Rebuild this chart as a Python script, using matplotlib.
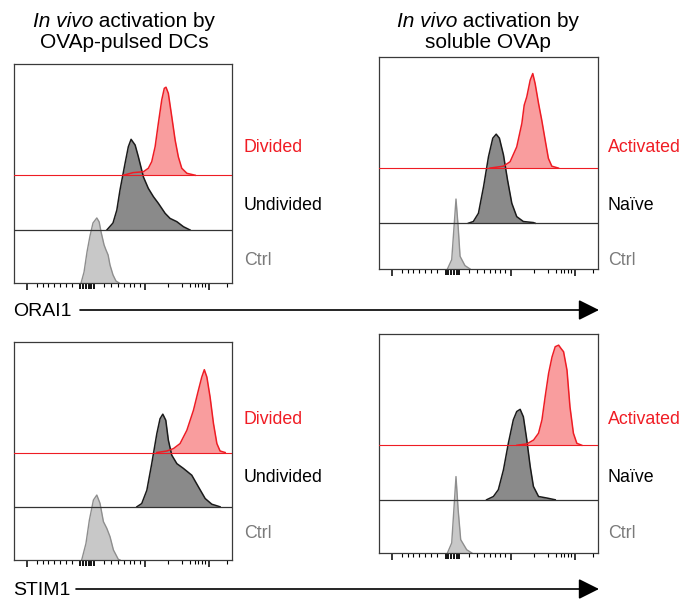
import matplotlib
matplotlib.use('Agg')
import matplotlib.pyplot as plt

plt.rcParams['font.family'] = ['Liberation Sans', 'DejaVu Sans']

W, H = 685, 599

# ---------------- data (x: display channel 0-1024, y: % of panel height) -------------
# Panel 1: ORAI1, OVAp-pulsed DCs
P1_CTRL_X = [315, 329, 343, 357, 371, 389, 400, 409, 423, 432, 442, 451, 465, 479, 494]
P1_CTRL_Y = [0, 5.0, 14.2, 21.5, 27.4, 29.7, 27.9, 23.3, 17.4, 15.1, 12.8, 8.2, 3.7, 0.9, 0]
P1_MID_X = [436, 465, 483, 498, 522, 537, 550, 569, 584, 608, 631, 655, 678, 710, 733, 765, 796, 827]
P1_MID_Y = [0, 3.2, 9.1, 18.3, 30.6, 38.0, 41.4, 38.8, 33.5, 24.2, 19.0, 15.2, 12.2, 7.6, 5.3, 3.8, 1.5, 0]
P1_TOP_X = [514, 559, 608, 631, 647, 663, 678, 694, 706, 714, 725, 741, 757, 772, 788, 812, 851]
P1_TOP_Y = [0, 1.2, 1.6, 3.2, 6.2, 13.1, 23.7, 34.4, 39.7, 40.2, 37.4, 26.8, 16.0, 8.4, 3.2, 0.9, 0]
P1_OFFSETS = [0, 24.2, 49.2]

# Panel 2: ORAI1, soluble OVAp
P2_CTRL_X = [320, 340, 351, 360, 370, 379, 402, 426]
P2_CTRL_Y = [0, 4.4, 20.1, 33.0, 20.1, 6.0, 1.6, 0]
P2_MID_X = [418, 441, 465, 489, 512, 532, 548, 563, 582, 601, 621, 644, 675, 722, 730]
P2_MID_Y = [0, 0.8, 4.7, 17.3, 31.4, 40.1, 42.0, 40.1, 32.2, 20.4, 9.4, 3.1, 0.8, 0.3, 0]
P2_TOP_X = [519, 582, 613, 644, 668, 679, 691, 707, 719, 730, 746, 761, 777, 792, 808, 839]
P2_TOP_Y = [0, 0.9, 3.0, 10.0, 21.1, 29.7, 33.6, 41.5, 44.6, 39.9, 30.5, 22.6, 13.2, 4.6, 0.9, 0]
P2_OFFSETS = [0, 21.6, 47.6]

# Panel 3: STIM1, OVAp-pulsed DCs
P3_CTRL_X = [318, 338, 354, 373, 389, 404, 420, 436, 451, 467, 490, 498]
P3_CTRL_Y = [0, 7.6, 18.3, 27.5, 29.8, 26.0, 17.6, 14.5, 10.7, 4.6, 0.3, 0]
P3_MID_X = [577, 600, 624, 647, 671, 686, 699, 713, 725, 741, 765, 796, 835, 866, 898, 929, 968]
P3_MID_Y = [0, 1.5, 7.6, 19.8, 33.6, 40.4, 42.5, 39.7, 30.6, 23.7, 19.8, 17.6, 14.5, 9.2, 3.8, 1.2, 0]
P3_TOP_X = [671, 718, 749, 780, 812, 843, 866, 882, 894, 906, 921, 937, 953, 968, 992]
P3_TOP_Y = [0, 0.7, 1.8, 4.1, 10.2, 19.4, 28.5, 34.6, 38.0, 34.6, 25.5, 13.3, 4.1, 0.7, 0]
P3_OFFSETS = [0, 24.4, 49.3]

# Panel 4: STIM1, soluble OVAp
P4_CTRL_X = [320, 340, 351, 360, 370, 382, 410, 434]
P4_CTRL_Y = [0, 4.6, 21.2, 34.9, 19.8, 6.1, 1.5, 0]
P4_MID_X = [503, 535, 558, 582, 605, 628, 644, 660, 675, 691, 707, 722, 746, 785, 824]
P4_MID_Y = [0, 1.5, 4.6, 13.7, 25.9, 36.5, 40.3, 41.3, 37.9, 27.4, 15.2, 6.1, 1.5, 0.8, 0]
P4_TOP_X = [645, 691, 723, 746, 762, 777, 793, 809, 824, 840, 851, 863, 879, 893, 909, 925, 948]
P4_TOP_Y = [0, 0.6, 2.4, 5.5, 11.6, 22.2, 32.8, 40.3, 45.0, 45.7, 44.2, 42.7, 34.3, 17.5, 5.5, 0.9, 0]
P4_OFFSETS = [0, 24.3, 49.2]

MAJOR_TICKS = [62, 616, 917]
CLUSTER_TICKS = [312, 324, 338, 352, 364, 376]
MINOR_TICKS = [107, 135, 161, 189, 216, 244, 271,
               423, 456, 489, 517, 543, 566, 590,
               724, 790, 827, 851, 865, 884, 898, 1001]

LEFT_LABELS = ['Divided', 'Undivided', 'Ctrl']
RIGHT_LABELS = ['Activated', 'Naïve', 'Ctrl']
MARKERS = ['ORAI1', 'STIM1']

RED_LINE = '#ee1c24'
RED_FILL = '#f99d9e'
DARK_LINE = '#1a1a1a'
DARK_FILL = '#8a8a8a'
CTRL_LINE = '#8e8e8e'
CTRL_FILL = '#c8c8c8'
LABEL_COLORS = ['#f01c24', '#000000', '#7a7a7a']

fig = plt.figure(figsize=(W / 100, H / 100), dpi=100)


def panel_axes(x0, y0, x1, y1):
    return fig.add_axes([x0 / W, 1 - y1 / H, (x1 - x0) / W, (y1 - y0) / H])


def draw_panel(ax, ctrl, mid, top, offsets):
    cx, cy = ctrl
    mx, my = mid
    tx, ty = top
    o0, o1, o2 = offsets
    ax.fill_between(cx, o0, [o0 + v for v in cy], color=CTRL_FILL, lw=0, zorder=1)
    ax.plot(cx, [o0 + v for v in cy], color=CTRL_LINE, lw=1.0, zorder=1.5)
    ax.fill_between(tx, o2, [o2 + v for v in ty], color=RED_FILL, lw=0, zorder=2)
    ax.fill_between(mx, o1, [o1 + v for v in my], color=DARK_FILL, lw=0, zorder=3)
    ax.plot(mx, [o1 + v for v in my], color=DARK_LINE, lw=1.1, zorder=4)
    ax.axhline(o1, color='#333333', lw=0.9, zorder=4)
    ax.plot(tx, [o2 + v for v in ty], color=RED_LINE, lw=1.1, zorder=5)
    ax.axhline(o2, color=RED_LINE, lw=0.8, zorder=5)
    ax.set_xlim(0, 1024)
    ax.set_ylim(0, 100)
    ax.set_yticks([])
    ax.set_xticks(MAJOR_TICKS)
    ax.set_xticks(MINOR_TICKS + CLUSTER_TICKS, minor=True)
    ax.set_xticklabels([])
    ax.tick_params(axis='x', which='major', length=5, width=1.1, direction='out', color='black')
    ax.tick_params(axis='x', which='minor', length=3, width=0.8, direction='out', color='black')
    for s in ax.spines.values():
        s.set_color('#3a3a3a')
        s.set_linewidth(0.9)
    # the dense zero-region ticks are slightly longer in the reference
    for t, loc in zip(ax.xaxis.get_minor_ticks(), MINOR_TICKS + CLUSTER_TICKS):
        if loc in CLUSTER_TICKS:
            t.tick1line.set_markersize(4.5)
            t.tick1line.set_markeredgewidth(1.3)


ax1 = panel_axes(14, 64, 232, 283)
draw_panel(ax1, (P1_CTRL_X, P1_CTRL_Y), (P1_MID_X, P1_MID_Y), (P1_TOP_X, P1_TOP_Y), P1_OFFSETS)
ax2 = panel_axes(379, 57, 598, 269)
draw_panel(ax2, (P2_CTRL_X, P2_CTRL_Y), (P2_MID_X, P2_MID_Y), (P2_TOP_X, P2_TOP_Y), P2_OFFSETS)
ax3 = panel_axes(14, 342, 232, 560)
draw_panel(ax3, (P3_CTRL_X, P3_CTRL_Y), (P3_MID_X, P3_MID_Y), (P3_TOP_X, P3_TOP_Y), P3_OFFSETS)
ax4 = panel_axes(379, 334, 598, 553)
draw_panel(ax4, (P4_CTRL_X, P4_CTRL_Y), (P4_MID_X, P4_MID_Y), (P4_TOP_X, P4_TOP_Y), P4_OFFSETS)

# overlay in pixel coordinates for text and arrows
ov = fig.add_axes([0, 0, 1, 1], zorder=10)
ov.set_xlim(0, W)
ov.set_ylim(H, 0)
ov.axis('off')
ov.patch.set_alpha(0)

renderer = fig.canvas.get_renderer()
TITLE_FS = 15


def title(cx, y1, y2, second):
    t1 = ov.text(0, y1, 'In vivo', style='italic', fontsize=TITLE_FS, va='baseline', ha='left')
    t2 = ov.text(0, y1, ' activation by', fontsize=TITLE_FS, va='baseline', ha='left')
    w1 = t1.get_window_extent(renderer).width
    w2 = t2.get_window_extent(renderer).width
    start = cx - (w1 + w2) / 2
    t1.set_x(start)
    t2.set_x(start + w1)
    ov.text(cx, y2, second, fontsize=TITLE_FS, va='baseline', ha='center')


title(124, 27, 47.5, 'OVAp-pulsed DCs')
title(488, 27, 47.5, 'soluble OVAp')

LABEL_FS = 12.8
for row_y in ([151.5, 210, 265], [424.5, 482.5, 537.5]):
    for lab, col, y in zip(LEFT_LABELS, LABEL_COLORS, row_y):
        ov.text(244, y, lab, color=col, fontsize=LABEL_FS, va='baseline', ha='left')
    for lab, col, y in zip(RIGHT_LABELS, LABEL_COLORS, row_y):
        ov.text(608, y, lab, color=col, fontsize=LABEL_FS, va='baseline', ha='left')

for name, ty, ay, x0 in ((MARKERS[0], 316, 310, 80), (MARKERS[1], 595, 589, 76)):
    ov.text(13, ty, name, fontsize=14, va='baseline', ha='left')
    ov.annotate('', xy=(599, ay), xytext=(x0, ay),
                arrowprops=dict(arrowstyle='-|>,head_length=0.7,head_width=0.35', lw=1.2,
                                color='black', mutation_scale=18, shrinkA=0, shrinkB=0))

fig.savefig('out.png', dpi=100)
